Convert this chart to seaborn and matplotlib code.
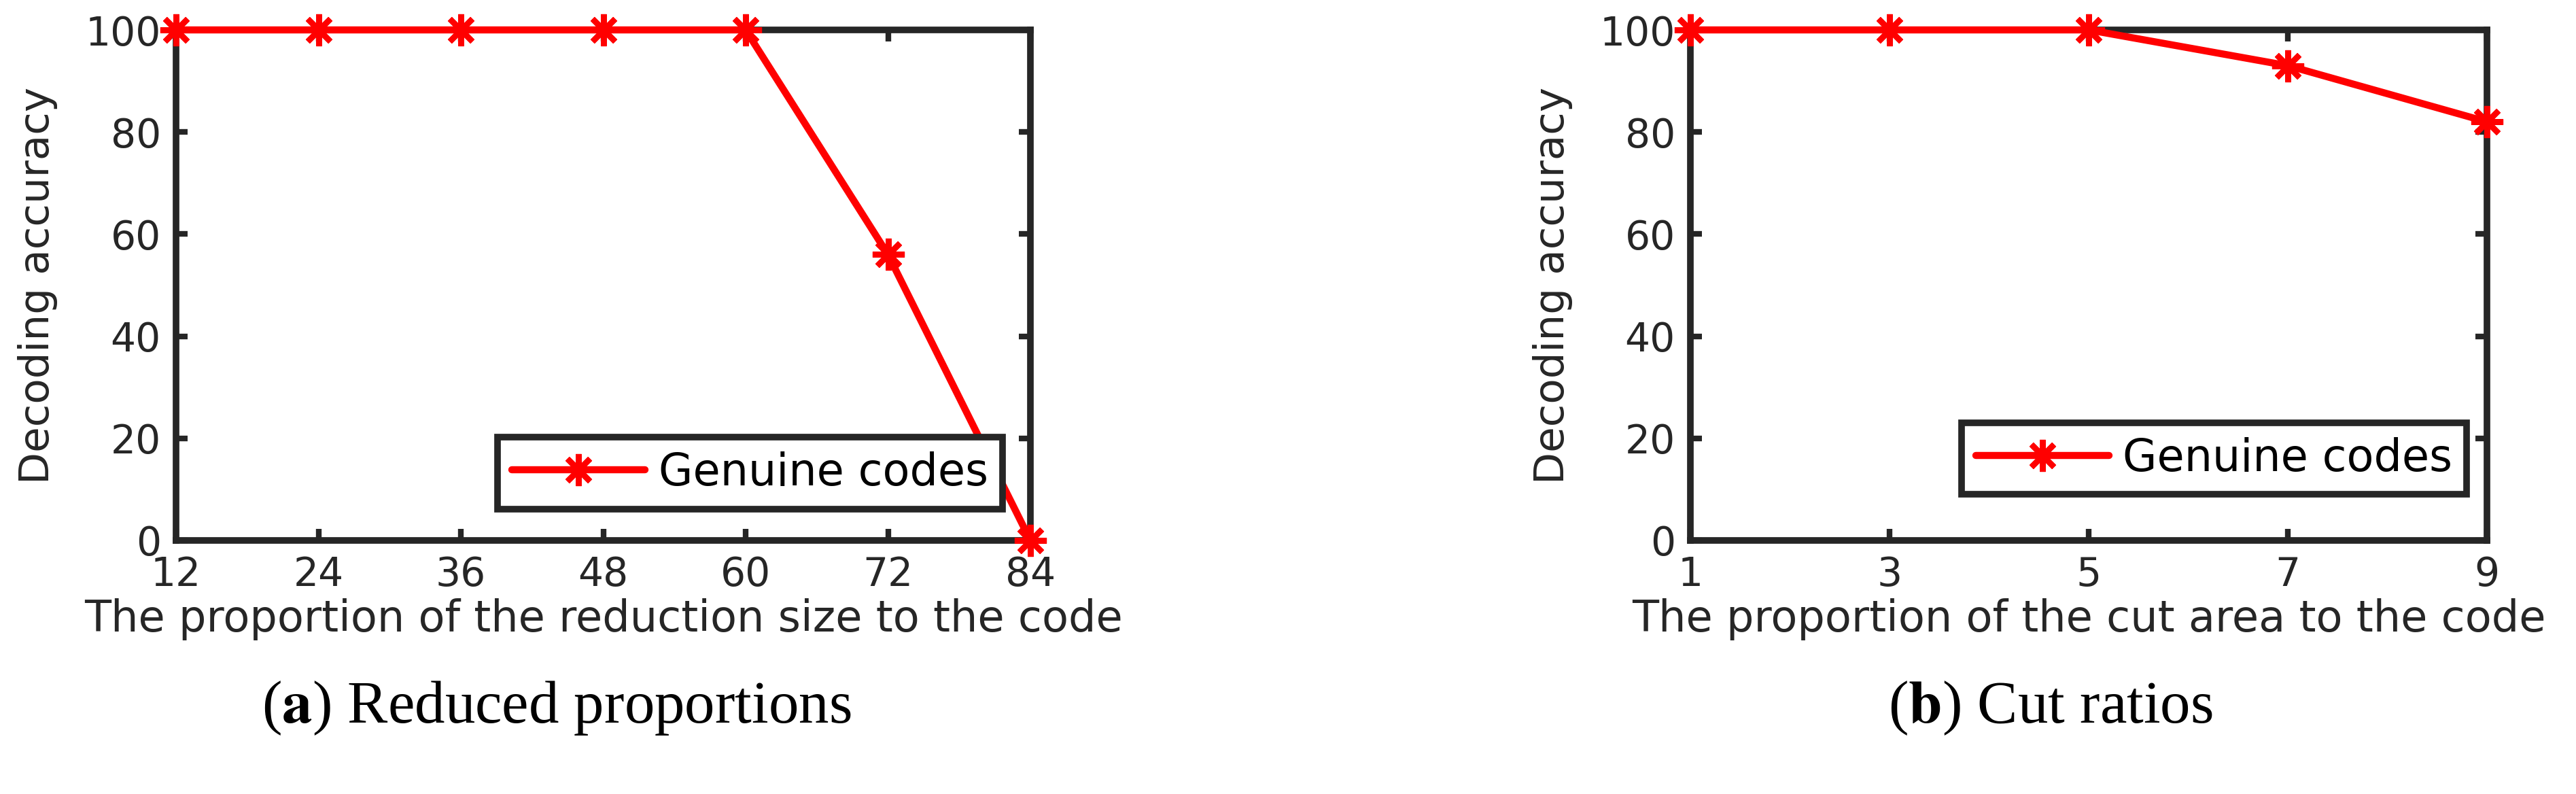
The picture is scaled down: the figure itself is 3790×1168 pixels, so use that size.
import numpy as np
import pandas as pd
import seaborn as sns
import matplotlib.pyplot as plt

# data
reduce_x = [12, 24, 36, 48, 60, 72, 84]
reduce_acc = [100, 100, 100, 100, 100, 56, 0]
cut_x = [1, 3, 5, 7, 9]
cut_acc = [100, 100, 100, 93, 82]

series_name = "Genuine codes"
ylab = "Decoding accuracy"
xlab_a = "The proportion of the reduction size to the code"
xlab_b = "The proportion of the cut area to the code"

sns.set_theme(style="white")
plt.rcParams['font.family'] = ['DejaVu Sans']
plt.rcParams['mathtext.fontset'] = 'stix'
dark = '#262626'

fig = plt.figure(figsize=(37.9, 11.68), dpi=100)
ax1 = fig.add_axes([259/3790, 1-795/1168, 1257/3790, 751/1168])
ax2 = fig.add_axes([2487/3790, 1-795/1168, 1172/3790, 751/1168])

def drawpanel(ax, xs, ys, xlab, ylx, leg_anchor):
    df = pd.DataFrame({'x': xs, 'y': ys})
    sns.lineplot(data=df, x='x', y='y', ax=ax, color='red', linewidth=7.5,
                 marker=(8, 2, 0), markersize=34, markeredgecolor='red',
                 markeredgewidth=6, label=series_name, clip_on=False, zorder=5)
    ax.set_xlim(xs[0], xs[-1])
    ax.set_ylim(0, 100)
    ax.set_xticks(xs)
    ax.set_yticks([0, 20, 40, 60, 80, 100])
    for s in ax.spines.values():
        s.set_visible(True)
        s.set_linewidth(7)
        s.set_color(dark)
    ax.tick_params(axis='both', direction='in', length=12, width=6, color=dark,
                   labelsize=42, labelcolor=dark, pad=16,
                   top=True, right=True, bottom=True, left=True)
    ax.set_xlabel(xlab, fontsize=46, color=dark)
    ax.set_ylabel(ylab, fontsize=44, color=dark)
    ax.xaxis.set_label_coords(0.5, -0.155)
    ax.xaxis.label.set_va('center')
    ax.yaxis.set_label_coords(ylx, 0.5)
    ax.yaxis.label.set_va('center')
    leg = ax.legend(loc='lower right', bbox_to_anchor=leg_anchor, fontsize=47,
                    frameon=True, fancybox=False, handlelength=3.0,
                    borderpad=0.32, handletextpad=0.3, borderaxespad=0)
    leg.get_frame().set_edgecolor(dark)
    leg.get_frame().set_linewidth(7)
    leg.get_frame().set_facecolor('white')
    leg.get_frame().set_alpha(1)
    for t in leg.get_texts():
        t.set_color('black')

drawpanel(ax1, reduce_x, reduce_acc, xlab_a, -0.162, (0.967, 0.061))
drawpanel(ax2, cut_x, cut_acc, xlab_b, -0.173, (0.974, 0.09))

fig.text(0.216, 0.108, r"($\mathbf{a}$) Reduced proportions", ha='center', va='center',
         fontsize=64, family='Liberation Serif', color='black')
fig.text(0.796, 0.108, r"($\mathbf{b}$) Cut ratios", ha='center', va='center',
         fontsize=64, family='Liberation Serif', color='black')

fig.savefig("out.png", dpi=100, facecolor='white')
